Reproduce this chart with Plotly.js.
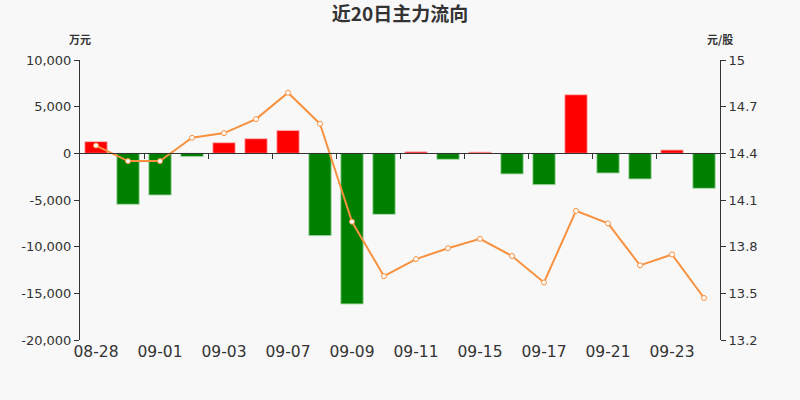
<!DOCTYPE html>
<html>
<head>
<meta charset="utf-8">
<script src="https://cdn.plot.ly/plotly-3.0.1.min.js"></script>
<style>
  html, body { margin: 0; padding: 0; background: #f8f8f8; }
  #chart { width: 800px; height: 400px; }
</style>
</head>
<body>
<div id="chart"></div>
<script>
// 近20日主力流向
var dates = ['08-28','08-31','09-01','09-02','09-03','09-04','09-07','09-08','09-09','09-10',
             '09-11','09-14','09-15','09-16','09-17','09-18','09-21','09-22','09-23','09-24'];
// 主力净流入 (万元)
var flows = [1250, -5460, -4470, -350, 1140, 1570, 2460, -8820, -16140, -6540,
             170, -640, 130, -2210, -3360, 6280, -2110, -2750, 360, -3750];
// 收盘价 (元/股)
var prices = [14.45, 14.35, 14.35, 14.50, 14.53, 14.62, 14.79, 14.59, 13.96, 13.61,
              13.72, 13.79, 13.85, 13.74, 13.57, 14.03, 13.95, 13.68, 13.75, 13.47];

var leftTicks = [10000, 5000, 0, -5000, -10000, -15000, -20000];
var leftTickText = ['10,000', '5,000', '0', '-5,000', '-10,000', '-15,000', '-20,000'];
var rightTicks = [15, 14.7, 14.4, 14.1, 13.8, 13.5, 13.2];
var rightTickText = ['15', '14.7', '14.4', '14.1', '13.8', '13.5', '13.2'];

var idx = dates.map(function(d, i){ return i; });
// labels on every other day, tick marks between the pairs
var labelIdx = idx.filter(function(i){ return i % 2 == 0; });
var labelText = labelIdx.map(function(i){ return dates[i]; });
var tickIdx = idx.filter(function(i){ return i % 2 == 1 && i < 19; }).map(function(i){ return i + 0.5; });

var barColors = flows.map(function(v){ return v >= 0 ? '#ff0000' : '#008000'; });
var barLines = flows.map(function(v){ return v >= 0 ? 'rgba(255,190,190,0.9)' : 'rgba(170,220,170,0.9)'; });

var data = [
	{
		type: 'bar',
		x: idx,
		y: flows,
		marker: {color: barColors, line: {color: barLines, width: 1}},
		width: 0.7,
		hoverinfo: 'y'
	},
	{
		type: 'scatter',
		mode: 'lines+markers',
		x: idx,
		y: prices,
		yaxis: 'y2',
		line: {color: '#f7913f', width: 2},
		marker: {size: 5, color: '#ffffff', line: {color: '#f7913f', width: 1}},
		hoverinfo: 'y'
	},
	// invisible trace to carry the tick marks on the zero line
	{
		type: 'scatter',
		mode: 'markers',
		x: [0],
		y: [0],
		xaxis: 'x2',
		marker: {opacity: 0},
		hoverinfo: 'skip'
	}
];

var font = {family: 'DejaVu Sans, sans-serif', color: '#333'};

var layout = {
	width: 800,
	height: 400,
	paper_bgcolor: '#f8f8f8',
	plot_bgcolor: '#f8f8f8',
	showlegend: false,
	font: font,
	margin: {l: 80, r: 80, t: 60, b: 60, pad: 0},
	title: {
		text: '<b>近20日主力流向</b>',
		font: {family: 'Noto Sans CJK SC, DejaVu Sans, sans-serif', size: 19, color: '#333'},
		x: 0.5, xanchor: 'center', y: 0.965, yanchor: 'middle'
	},
	xaxis: {
		range: [-0.5, 19.5],
		tickvals: labelIdx,
		ticktext: labelText,
		ticks: '',
		showgrid: false,
		zeroline: false,
		showline: false,
		tickfont: {size: 15.5, color: '#333'},
		fixedrange: true
	},
	xaxis2: {
		overlaying: 'x',
		anchor: 'free',
		position: 2 / 3,
		range: [-0.5, 19.5],
		tickvals: tickIdx,
		showticklabels: false,
		ticks: 'outside',
		ticklen: 5,
		tickcolor: '#333',
		showgrid: false,
		zeroline: false,
		showline: true,
		linecolor: '#333',
		linewidth: 1
	},
	yaxis: {
		range: [-20000, 10000],
		tickvals: leftTicks,
		ticktext: leftTickText,
		ticks: 'outside',
		ticklen: 5,
		tickcolor: '#333',
		showline: true,
		linecolor: '#333',
		linewidth: 1,
		showgrid: false,
		zeroline: false,
		tickfont: {size: 13, color: '#333'}
	},
	yaxis2: {
		overlaying: 'y',
		side: 'right',
		range: [13.2, 15],
		tickvals: rightTicks,
		ticktext: rightTickText,
		ticks: 'outside',
		ticklen: 5,
		tickcolor: '#333',
		showline: true,
		linecolor: '#333',
		linewidth: 1,
		showgrid: false,
		zeroline: false,
		tickfont: {size: 13, color: '#333'}
	},
	annotations: [
		{text: '<b>万元</b>', xref: 'paper', yref: 'paper', x: 0, y: 1, yshift: 21, xanchor: 'center', yanchor: 'middle',
		 showarrow: false, font: {family: 'Noto Sans CJK SC, sans-serif', size: 11, color: '#333'}},
		{text: '<b>元/股</b>', xref: 'paper', yref: 'paper', x: 1, y: 1, yshift: 21, xanchor: 'center', yanchor: 'middle',
		 showarrow: false, font: {family: 'Noto Sans CJK SC, sans-serif', size: 11, color: '#333'}}
	]
};

Plotly.newPlot('chart', data, layout, {displayModeBar: false, staticPlot: true});
</script>
</body>
</html>
